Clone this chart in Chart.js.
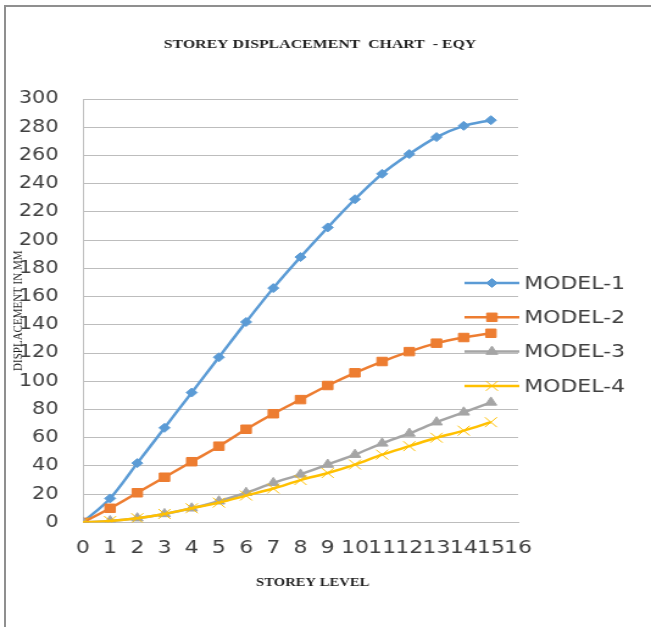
<!DOCTYPE html>
<html>
<head>
<meta charset="utf-8">
<title>Storey Displacement Chart - EQY</title>
<script src="https://cdn.jsdelivr.net/npm/chart.js@4"></script>
<style>
  html, body { margin: 0; padding: 0; background: #ffffff; }
  #wrap { position: relative; width: 651px; height: 627px; overflow: hidden; }
  #frame { position: absolute; left: 4px; top: 5px; right: -4px; bottom: -4px;
           border-top: 2px solid #8f8f8f; border-left: 2px solid #8f8f8f; }
  #chart { position: absolute; left: 0; top: 0; }
</style>
</head>
<body>
<div id="wrap">
  <div id="frame"></div>
  <!-- drawn at 534px wide and shown at 651px, giving the widened lettering -->
  <canvas id="chart" width="534" height="627" style="width:651px;height:627px"></canvas>
</div>
<script>
// Storey levels along the x axis
const storeys = [0, 1, 2, 3, 4, 5, 6, 7, 8, 9, 10, 11, 12, 13, 14, 15];

// Displacement (mm) at each storey, one array per model
const model1 = [0, 17, 42, 67, 92, 117, 142, 166, 188, 209, 229, 247, 261, 273, 281, 285];
const model2 = [0, 10, 21, 32, 43, 54, 66, 77, 87, 97, 106, 114, 121, 127, 131, 134];
const model3 = [0, 1, 3, 6, 10, 15, 21, 28, 34, 41, 48, 56, 63, 71, 78, 85];
const model4 = [0, 1, 3, 6, 10, 14, 19, 24, 30, 35, 41, 48, 54, 60, 65, 71];

const seriesNames = ['MODEL-1', 'MODEL-2', 'MODEL-3', 'MODEL-4'];

// Axis ranges and tick spacing
const xRange = { min: 0, max: 16, step: 1 };
const yRange = { min: 0, max: 300, step: 20 };

const chartTitle = 'STOREY DISPLACEMENT  CHART  - EQY';
const xTitle = 'STOREY LEVEL';
const yTitle = 'DISPLACEMENT IN MM';

const toPoints = vals => storeys.map((s, i) => ({ x: s, y: vals[i] }));

const styles = [
  { color: '#5B9BD5', pointStyle: 'rectRot',  radius: 4.5, pointBorder: 1 },
  { color: '#ED7D31', pointStyle: 'rect',     radius: 6,   pointBorder: 1 },
  { color: '#A5A5A5', pointStyle: 'triangle', radius: 5.5, pointBorder: 1 },
  { color: '#FFC000', pointStyle: 'crossRot', radius: 7,   pointBorder: 1 }
];

const allSeries = [model1, model2, model3, model4];

const datasets = allSeries.map((vals, i) => ({
  label: seriesNames[i],
  data: toPoints(vals),
  borderColor: styles[i].color,
  backgroundColor: styles[i].color,
  borderWidth: 2.5,
  tension: 0.3,
  pointStyle: styles[i].pointStyle,
  pointRadius: styles[i].radius,
  pointBorderWidth: styles[i].pointBorder,
  pointBackgroundColor: styles[i].color,
  pointBorderColor: styles[i].color,
  order: allSeries.length - i
}));

const TEXT = '#404040';
const GRID = '#BDBDBD';

// Chart title, axis titles and the legend set inside the plot's right side
const overlay = {
  id: 'overlay',
  afterDatasetsDraw(chart) {
    const ctx = chart.ctx;
    const a = chart.chartArea;

    // chart title
    ctx.save();
    ctx.fillStyle = '#1f1f1f';
    ctx.font = 'bold 13px "Liberation Serif"';
    ctx.textAlign = 'center';
    ctx.textBaseline = 'middle';
    ctx.fillText(chartTitle, chart.width / 2 - 4.5, a.top - 54);
    ctx.restore();

    // y axis title, rotated
    ctx.save();
    ctx.fillStyle = '#1f1f1f';
    ctx.font = '11px "Liberation Serif"';
    ctx.textAlign = 'center';
    ctx.textBaseline = 'middle';
    ctx.translate(15, (a.top + a.bottom) / 2);
    ctx.rotate(-Math.PI / 2);
    ctx.fillText(yTitle, 0, 0);
    ctx.restore();

    // x axis title
    ctx.save();
    ctx.fillStyle = '#1f1f1f';
    ctx.font = 'bold 12px "Liberation Serif"';
    ctx.textAlign = 'center';
    ctx.textBaseline = 'middle';
    ctx.fillText(xTitle, (a.left + a.right) / 2 + 10, a.bottom + 61);
    ctx.restore();

    // legend entries
    const lineStart = a.right - 44;
    const lineEnd = a.right + 1;
    const textX = a.right + 5;
    chart.data.datasets.forEach((ds, i) => {
      const y = a.top + 184 + i * 34.3;
      ctx.save();
      ctx.strokeStyle = ds.borderColor;
      ctx.lineWidth = ds.borderWidth;
      ctx.beginPath();
      ctx.moveTo(lineStart, y);
      ctx.lineTo(lineEnd, y);
      ctx.stroke();
      ctx.fillStyle = ds.pointBackgroundColor;
      ctx.strokeStyle = ds.pointBorderColor;
      ctx.lineWidth = ds.pointBorderWidth;
      Chart.helpers.drawPoint(ctx, {
        pointStyle: ds.pointStyle,
        radius: ds.pointRadius,
        borderWidth: ds.pointBorderWidth,
        rotation: 0
      }, (lineStart + lineEnd) / 2, y);
      ctx.fillStyle = TEXT;
      ctx.font = '18px "DejaVu Sans"';
      ctx.textAlign = 'left';
      ctx.textBaseline = 'middle';
      ctx.fillText(ds.label, textX, y + 1);
      ctx.restore();
    });
  }
};

new Chart(document.getElementById('chart'), {
  type: 'line',
  data: { datasets },
  plugins: [overlay],
  options: {
    responsive: false,
    animation: false,
    events: [],
    layout: { padding: { left: 0, right: 109, top: 99, bottom: 53 } },
    plugins: {
      legend: { display: false },
      tooltip: { enabled: false },
      title: { display: false }
    },
    scales: {
      x: {
        type: 'linear',
        min: xRange.min,
        max: xRange.max,
        grid: { display: false, drawTicks: false },
        border: { display: true, color: GRID, width: 1 },
        ticks: {
          stepSize: xRange.step,
          autoSkip: false,
          maxRotation: 0,
          padding: 15,
          color: TEXT,
          font: { family: '"DejaVu Sans"', size: 18 }
        }
      },
      y: {
        min: yRange.min,
        max: yRange.max,
        afterFit(scale) { scale.width = 68; },
        grid: { color: GRID, lineWidth: 1, drawTicks: false },
        border: { display: true, color: GRID, width: 1 },
        ticks: {
          stepSize: yRange.step,
          padding: 20,
          color: TEXT,
          font: { family: '"DejaVu Sans"', size: 17 }
        }
      }
    }
  }
});
</script>
</body>
</html>
